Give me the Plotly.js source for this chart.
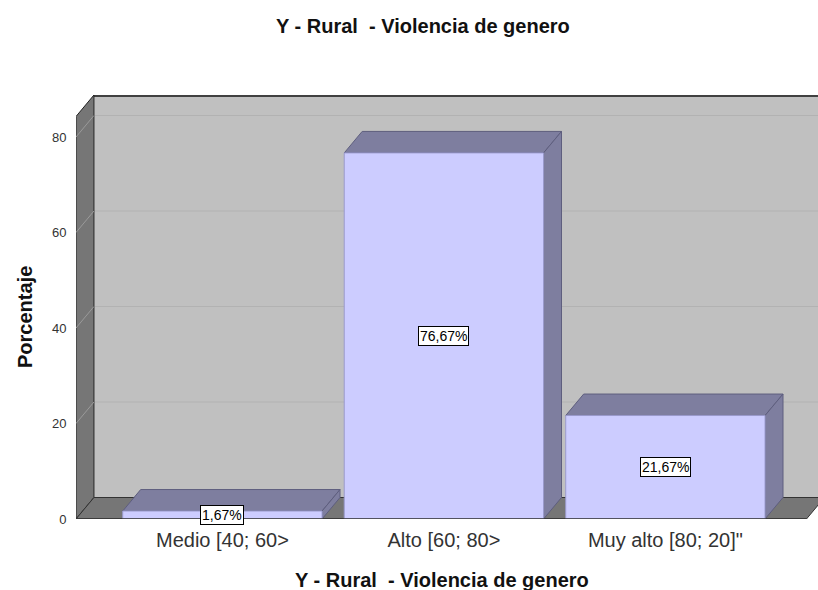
<!DOCTYPE html>
<html><head><meta charset="utf-8">
<script src="https://cdn.plot.ly/plotly-3.0.1.min.js"></script>
<style>html,body{margin:0;padding:0;background:#fff}</style>
</head><body><div id="chart" style="width:818px;height:590px"></div>
<script>
const categories = ["Medio [40; 60>", "Alto [60; 80>", "Muy alto [80; 20]\""];
const values = [1.67, 76.67, 21.67];
const yTicks = [0, 20, 40, 60, 80];
const chartTitle = "Y - Rural\u00a0 - Violencia de genero";
const xTitle = "Y - Rural\u00a0 - Violencia de genero";
const yTitle = "Porcentaje";

// geometry (axis units)
const X0 = -0.661, XMAX = 2.689, XR = 2.637;
const YTOP = 88.8;
const DX = 0.081, DY = 4.5;
const BW = 0.9;

const xs = categories.map((c, i) => i);
const shapes = [];
const P = pts => 'M' + pts.map(p => p[0] + ',' + p[1]).join(' L') + ' Z';

// back wall
shapes.push({type:'path', xref:'x', yref:'y', layer:'below',
  path: P([[X0+DX, DY],[XMAX+1, DY],[XMAX+1, YTOP],[X0+DX, YTOP]]),
  fillcolor:'#c0c0c0', line:{width:0}});
// back wall gridlines
yTicks.filter(v => v > 0).forEach(v => {
  shapes.push({type:'line', xref:'x', yref:'y', layer:'below',
    x0:X0+DX, x1:XMAX+1, y0:v+DY, y1:v+DY, line:{color:'#b2b2b2', width:1}});
});
// top edge of back wall
shapes.push({type:'line', xref:'x', yref:'y', layer:'below',
  x0:X0+DX, x1:XMAX+1, y0:YTOP-0.2, y1:YTOP-0.2, line:{color:'#404040', width:2}});
// left wall
shapes.push({type:'path', xref:'x', yref:'y', layer:'below',
  path: P([[X0, 0],[X0+DX, DY],[X0+DX, YTOP],[X0, YTOP-DY]]),
  fillcolor:'#767676', line:{color:'#222', width:1}});
// left wall gridlines
yTicks.filter(v => v > 0).forEach(v => {
  shapes.push({type:'line', xref:'x', yref:'y', layer:'below',
    x0:X0, x1:X0+DX, y0:v, y1:v+DY, line:{color:'#9a9a9a', width:1}});
});
// floor
shapes.push({type:'path', xref:'x', yref:'y', layer:'below',
  path: P([[X0, 0],[X0+DX, DY],[XR+DX, DY],[XR, 0]]),
  fillcolor:'#767676', line:{color:'#333', width:1}});
// bar top and side faces
values.forEach((v, i) => {
  const l = xs[i] - BW/2, r = xs[i] + BW/2;
  shapes.push({type:'path', xref:'x', yref:'y', layer:'below',
    path: P([[l, v],[l+DX, v+DY],[r+DX, v+DY],[r, v]]),
    fillcolor:'#7e7e9f', line:{color:'#5e5e7e', width:1}});
  shapes.push({type:'path', xref:'x', yref:'y', layer:'below',
    path: P([[r, 0],[r+DX, DY],[r+DX, v+DY],[r, v]]),
    fillcolor:'#7e7e9f', line:{color:'#5e5e7e', width:1}});
});
// front floor edge
shapes.push({type:'line', xref:'x', yref:'y', layer:'above',
  x0:X0, x1:XR, y0:0, y1:0, line:{color:'#333', width:1.5}});

const annotations = values.map((v, i) => ({
  x: xs[i], y: v/2, xref:'x', yref:'y', showarrow:false,
  text: v.toFixed(2).replace('.', ',') + '%',
  font:{family:'Liberation Sans, Arial, sans-serif', size:14, color:'#000'},
  bgcolor:'#ffffff', bordercolor:'#000', borderwidth:1, borderpad:1
}));
// axis titles
annotations.push({xref:'paper', yref:'paper', x:(442-76)/742, y:(519-580)/424,
  xanchor:'center', yanchor:'middle', showarrow:false,
  text:'<b>' + xTitle + '</b>', font:{size:20, color:'#111'}});
annotations.push({xref:'paper', yref:'paper', x:(25-76)/742, y:(519-317)/424,
  xanchor:'center', yanchor:'middle', showarrow:false, textangle:-90,
  text:'<b>' + yTitle + '</b>', font:{size:20, color:'#111'}});

const trace = {
  type:'bar', x: xs, y: values, width: BW,
  marker:{color:'#ccccff', line:{color:'#9a9acc', width:1}},
  hoverinfo:'none', showlegend:false
};

const layout = {
  width:818, height:590,
  margin:{l:76, r:0, t:95, b:71},
  paper_bgcolor:'#fff', plot_bgcolor:'#fff',
  font:{family:'Liberation Sans, Arial, sans-serif', color:'#222'},
  title:{text:'<b>' + chartTitle + '</b>', x:0.517, xanchor:'center', y:1-26/590, yanchor:'middle', yref:'container',
    font:{size:20, color:'#111'}},
  xaxis:{range:[X0, XMAX], tickvals: xs, ticktext: categories, showgrid:false, zeroline:false,
    showline:false, ticks:'outside', ticklen:3, tickcolor:'rgba(0,0,0,0)',
    tickfont:{size:20, color:'#333'}},
  yaxis:{range:[0, YTOP], tickvals: yTicks, showgrid:false, zeroline:false, showline:false,
    ticks:'outside', ticklen:6, tickcolor:'rgba(0,0,0,0)',
    tickfont:{size:13, color:'#333'}},
  shapes: shapes,
  annotations: annotations,
  bargap:0
};
Plotly.newPlot('chart', [trace], layout, {displayModeBar:false, staticPlot:true});
</script></body></html>
